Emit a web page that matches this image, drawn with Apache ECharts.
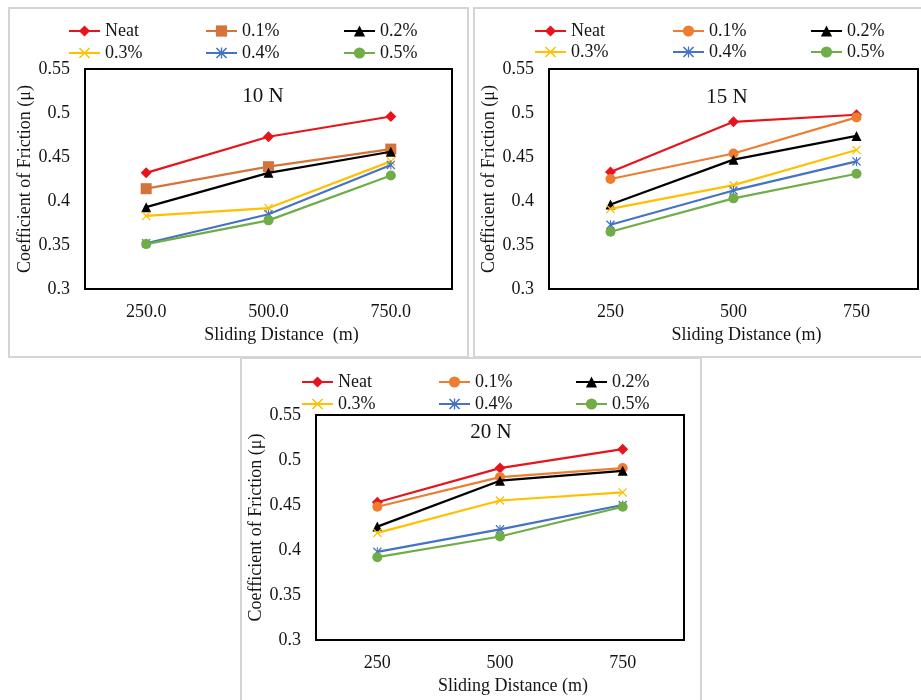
<!DOCTYPE html>
<html>
<head>
<meta charset="utf-8">
<script src="https://cdn.jsdelivr.net/npm/echarts@6/dist/echarts.min.js"></script>
<style>
html,body{margin:0;padding:0;background:#fff;}
#chart{width:921px;height:700px;}
</style>
</head>
<body>
<div id="chart"></div>
<script>
// ---- data ----
const seriesNames = ['Neat', '0.1%', '0.2%', '0.3%', '0.4%', '0.5%'];
const distanceLabels10N = ['250.0', '500.0', '750.0'];
const distanceLabels = ['250', '500', '750'];
const panelTitles = ['10 N', '15 N', '20 N'];
const yMin = 0.3, yMax = 0.55, yStep = 0.05;

// 10 N
const neat10 = [0.432, 0.473, 0.496];
const p01_10 = [0.414, 0.439, 0.459];
const p02_10 = [0.393, 0.432, 0.456];
const p03_10 = [0.383, 0.392, 0.445];
const p04_10 = [0.352, 0.385, 0.441];
const p05_10 = [0.351, 0.378, 0.429];
// 15 N
const neat15 = [0.433, 0.490, 0.498];
const p01_15 = [0.425, 0.454, 0.495];
const p02_15 = [0.396, 0.447, 0.474];
const p03_15 = [0.391, 0.418, 0.458];
const p04_15 = [0.373, 0.412, 0.445];
const p05_15 = [0.365, 0.403, 0.431];
// 20 N
const neat20 = [0.453, 0.491, 0.512];
const p01_20 = [0.448, 0.481, 0.491];
const p02_20 = [0.426, 0.477, 0.488];
const p03_20 = [0.419, 0.455, 0.464];
const p04_20 = [0.398, 0.423, 0.450];
const p05_20 = [0.392, 0.415, 0.448];

// ---- styling ----
const FONT = '"Liberation Serif", "Times New Roman", serif';
const TXT = '#141414';
const X_PATH = 'path://M1,0 L5,4 L9,0 L10,1 L6,5 L10,9 L9,10 L5,6 L1,10 L0,9 L4,5 L0,1 Z';
const STAR_PATH = 'path://M1,0 L5,4 L9,0 L10,1 L6,5 L10,9 L9,10 L5,6 L1,10 L0,9 L4,5 L0,1 Z M4.4,0 L5.6,0 L5.6,10 L4.4,10 Z';

const styles = [
  { color: '#E8141C', symbol: 'diamond', size: 11 },
  { color: '#ED7D31', symbol: 'circle', size: 10 },
  { color: '#000000', symbol: 'triangle', size: 10 },
  { color: '#FFC000', symbol: X_PATH, size: 9 },
  { color: '#4472C4', symbol: STAR_PATH, size: 9 },
  { color: '#70AD47', symbol: 'circle', size: 10 }
];
const panel1Orange = { color: '#D4743A', symbol: 'rect', size: 11 };

const panels = [
  { data: [neat10, p01_10, p02_10, p03_10, p04_10, p05_10], cats: distanceLabels10N,
    grid: { left: 85, top: 69, width: 367, height: 220 }, xName: 'Sliding Distance  (m)',
    yGap: 50, legendX: [68, 205, 343], legendTop: 22, legendGap: 4, title: [263, 96] },
  { data: [neat15, p01_15, p02_15, p03_15, p04_15, p05_15], cats: distanceLabels,
    grid: { left: 549, top: 69, width: 369, height: 220 }, xName: 'Sliding Distance (m)',
    yGap: 46, legendX: [534, 672, 810], legendTop: 22, legendGap: 3, title: [727, 97] },
  { data: [neat20, p01_20, p02_20, p03_20, p04_20, p05_20], cats: distanceLabels,
    grid: { left: 316, top: 415, width: 368, height: 225 }, xName: 'Sliding Distance (m)',
    yGap: 50, legendX: [301, 438, 575], legendTop: 373, legendGap: 4, title: [491, 432] }
];

const grids = [], xAxes = [], yAxes = [], series = [], legends = [], graphics = [];

// outer panel frames
[[9, 8, 459, 349], [474, 8, 452, 349], [241, 358, 460, 350]].forEach(r => {
  graphics.push({ type: 'rect', shape: { x: r[0], y: r[1], width: r[2], height: r[3] },
    style: { fill: 'none', stroke: '#d4d4d4', lineWidth: 2 }, z: 0 });
});

panels.forEach((p, pi) => {
  grids.push(Object.assign({ show: true, borderColor: '#000', borderWidth: 2, backgroundColor: '#fff', z: 1 }, p.grid));
  xAxes.push({
    type: 'category', gridIndex: pi, data: p.cats, boundaryGap: true,
    axisLine: { show: false }, axisTick: { show: false },
    axisLabel: { fontFamily: FONT, fontSize: 18, color: TXT, margin: 14 },
    name: p.xName, nameLocation: 'middle', nameGap: 37,
    nameTextStyle: { fontFamily: FONT, fontSize: 18, color: TXT, padding: [0, 0, 0, 26] }
  });
  yAxes.push({
    type: 'value', gridIndex: pi, min: yMin, max: yMax, interval: yStep,
    axisLine: { show: false }, axisTick: { show: false },
    splitLine: { lineStyle: { color: '#d9d9d9', width: 1 } },
    axisLabel: { fontFamily: FONT, fontSize: 18, color: TXT, margin: 15 },
    name: 'Coefficient of Friction (\u03bc)', nameLocation: 'middle', nameGap: p.yGap,
    nameTextStyle: { fontFamily: FONT, fontSize: 18, color: TXT }
  });
  const names = [];
  p.data.forEach((vals, si) => {
    const st = (pi === 0 && si === 1) ? panel1Orange : styles[si];
    const name = seriesNames[si] + '|' + pi;
    names.push(name);
    series.push({
      type: 'line', name: name, xAxisIndex: pi, yAxisIndex: pi, data: vals,
      symbol: st.symbol, symbolSize: st.size, symbolKeepAspect: true, showSymbol: true,
      lineStyle: { color: st.color, width: 2.2 }, itemStyle: { color: st.color },
      z: 3 + si, animation: false
    });
  });
  // three legend columns (2 rows each)
  for (let c = 0; c < 3; c++) {
    legends.push({
      orient: 'vertical', left: p.legendX[c], top: p.legendTop, padding: 0,
      itemWidth: 31, itemHeight: 14, itemGap: p.legendGap,
      data: [names[c], names[c + 3]],
      formatter: n => n.split('|')[0],
      textStyle: { fontFamily: FONT, fontSize: 18, color: TXT },
      selectedMode: false
    });
  }
  graphics.push({ type: 'text', x: p.title[0], y: p.title[1], z: 10,
    style: { text: panelTitles[pi], font: '21px ' + FONT, fill: TXT, align: 'center', verticalAlign: 'middle' } });
});

const chart = echarts.init(document.getElementById('chart'), null, { renderer: 'canvas' });
chart.setOption({
  backgroundColor: '#fff',
  animation: false,
  grid: grids, xAxis: xAxes, yAxis: yAxes, series: series, legend: legends,
  graphic: graphics
});
</script>
</body>
</html>
